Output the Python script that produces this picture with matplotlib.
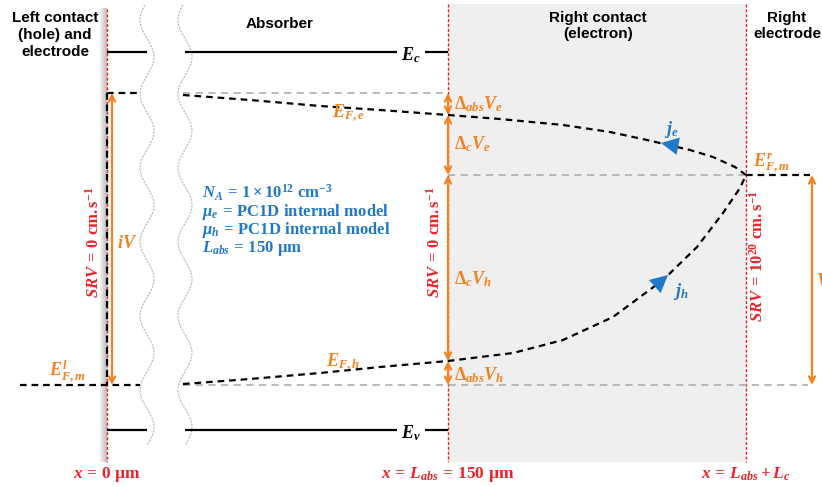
import numpy as np
import matplotlib
matplotlib.use("Agg")
import matplotlib.pyplot as plt
from matplotlib.patches import Rectangle

plt.rcParams['mathtext.fontset'] = 'custom'
plt.rcParams['mathtext.it'] = 'Liberation Serif:italic:bold'
plt.rcParams['mathtext.rm'] = 'Liberation Serif:bold'
plt.rcParams['mathtext.bf'] = 'Liberation Serif:bold'

ORANGE = '#f58220'
RED = '#e8232a'
BLUE = '#1f78c8'
GREY = '#b4b4b4'
SHADE = '#efefef'

# Interface positions (diagram units)
x_left = 107
x_abs = 448
x_right = 746

# Energy levels (diagram units, screen axis pointing down)
y_ec = 52
y_ev = 430
y_efe0 = 93       # electron quasi-Fermi level at left boundary
y_efm_r = 175     # right metal Fermi level
y_efm_l = 385     # left metal Fermi level

# Electron quasi-Fermi level through absorber and contact
efe_x = [183, 250, 320, 380, 448, 500, 563, 610, 647, 690, 713, 735, 746]
efe_y = [95, 100, 106, 110, 115, 119, 125, 132, 140, 150, 157, 167, 175]
# Hole quasi-Fermi level through absorber and contact
efh_x = [183, 250, 320, 380, 448, 513, 563, 613, 663, 697, 723, 740, 746]
efh_y = [384, 379, 373, 367, 361, 353, 340, 317, 280, 247, 213, 188, 175]

# Level where each quasi-Fermi level meets the absorber / contact interface
y_efe_int = 115
y_efh_int = 361

params = [r"$N_A\,=\,1\times10^{12}\ \mathrm{cm}^{-3}$",
          r"$\mu_e\,=\,\mathrm{PC1D\ internal\ model}$",
          r"$\mu_h\,=\,\mathrm{PC1D\ internal\ model}$",
          r"$L_{abs}\,=\,150\ \mathrm{µm}$"]

fig = plt.figure(figsize=(8.22, 4.87), dpi=100)
ax = fig.add_axes([0, 0, 1, 1])
ax.set_xlim(0, 822)
ax.set_ylim(487, 0)
ax.axis('off')

y_top, y_bot = 4, 462

# Contact region shading
ax.add_patch(Rectangle((x_abs, y_top), x_right - x_abs, y_bot - y_top,
                       facecolor=SHADE, edgecolor='none', zorder=0))
# Left contact boundary (grey gradient)
grad = np.linspace(0.95, 0.74, 20)[None, :]
ax.imshow(grad, cmap='gray', vmin=0, vmax=1, aspect='auto',
          extent=[100, x_left, y_bot, y_top + 4], zorder=0.5)

# Interface markers
for xv, yt in [(x_left, 9), (x_abs, y_top), (x_right, y_top)]:
    ax.plot([xv, xv], [yt, y_bot], color=RED, lw=1.0,
            ls=(0, (2.2, 1.3)), zorder=2)

# Axis-break wavy lines
yy = np.linspace(5, 445, 400)
for xc in (147, 185):
    ax.plot(xc + 7 * np.cos(2 * np.pi * (yy - 57) / 74), yy,
            color='#b8b8b8', lw=0.8, ls=(0, (2, 1)), zorder=1)

# Band edges
band_kw = dict(color='black', lw=1.6, solid_capstyle='butt', zorder=3)
for yb in (y_ec, y_ev):
    ax.plot([x_left, 147], [yb, yb], **band_kw)
    ax.plot([185, 397], [yb, yb], **band_kw)
    ax.plot([425, x_abs], [yb, yb], **band_kw)
ax.text(411, y_ec + 3, r"$E_c$", ha='center', va='center', fontsize=13, color='black')
ax.text(411, y_ev + 3, r"$E_v$", ha='center', va='center', fontsize=13, color='black')

# Reference (grey dashed) levels
g_kw = dict(color=GREY, lw=1.3, ls=(0, (4, 3)), zorder=2)
ax.plot([183, x_abs], [y_efe0, y_efe0], **g_kw)
ax.plot([x_abs, x_right], [y_efm_r, y_efm_r], **g_kw)
ax.plot([183, 808], [y_efm_l, y_efm_l], **g_kw)

# Quasi-Fermi levels (black dashed)
d_kw = dict(color='black', lw=1.6, ls=(0, (3, 2.2)), zorder=4)
ax.plot(efe_x, efe_y, **d_kw)
ax.plot(efh_x, efh_y, **d_kw)
ax.plot([x_left, 140], [y_efe0, y_efe0], **d_kw)
ax.plot([x_left, x_left], [y_efe0, y_efm_l], **d_kw)
ax.plot([20, 140], [y_efm_l, y_efm_l], **d_kw)
ax.plot([x_right, 810], [y_efm_r, y_efm_r], **d_kw)


def vspan_arrow(x, y0, y1):
    ax.annotate('', xy=(x, y1), xytext=(x, y0),
                arrowprops=dict(arrowstyle='<->', color=ORANGE, lw=1.6,
                                mutation_scale=11, shrinkA=0, shrinkB=0),
                zorder=5)


vspan_arrow(112, y_efe0, y_efm_l)
vspan_arrow(x_abs, y_efe0, y_efe_int)
vspan_arrow(x_abs, y_efe_int, y_efm_r)
vspan_arrow(x_abs, y_efm_r, y_efh_int)
vspan_arrow(x_abs, y_efh_int, y_efm_l)
vspan_arrow(812, y_efm_r, y_efm_l)

o_kw = dict(color=ORANGE, fontsize=13, va='center', zorder=6)
ax.text(117, 243, r"$iV$", ha='left', **o_kw)
ax.text(454, 104, r"$\Delta_{abs}V_e$", ha='left', **o_kw)
ax.text(454, 144, r"$\Delta_cV_e$", ha='left', **o_kw)
ax.text(454, 279, r"$\Delta_cV_h$", ha='left', **o_kw)
ax.text(454, 375, r"$\Delta_{abs}V_h$", ha='left', **o_kw)
ax.text(348, 113, r"$E_{F,e}$", ha='center', **o_kw)
ax.text(343, 362, r"$E_{F,h}$", ha='center', **o_kw)
ax.text(67, 372, r"$E_{F,m}^{l}$", ha='center', **o_kw)
ax.text(771, 163, r"$E_{F,m}^{r}$", ha='center', **o_kw)
ax.text(816, 281, r"$V$", ha='left', **o_kw)

# Current direction arrows
for (x0, y0), (x1, y1) in [((677, 146), (661, 143)), ((660, 282), (668, 275))]:
    ax.annotate('', xy=(x1, y1), xytext=(x0, y0),
                arrowprops=dict(arrowstyle='-|>,head_length=0.9,head_width=0.45',
                                color=BLUE, lw=0, mutation_scale=14,
                                shrinkA=0, shrinkB=0), zorder=6)
ax.text(671, 130, r"$j_e$", color=BLUE, fontsize=13, ha='center', va='center')
ax.text(681, 292, r"$j_h$", color=BLUE, fontsize=13, ha='center', va='center')

# Surface recombination velocities
r_kw = dict(color=RED, fontsize=12, rotation=90, ha='center', va='center', zorder=6)
ax.text(94, 242, r"$SRV\,=\,0\ \mathrm{cm.s}^{-1}$", **r_kw)
ax.text(435, 242, r"$SRV\,=\,0\ \mathrm{cm.s}^{-1}$", **r_kw)
ax.text(758, 256, r"$SRV\,=\,10^{20}\ \mathrm{cm.s}^{-1}$", **r_kw)

# Positions
b_kw = dict(color=RED, fontsize=12.5, ha='center', va='center')
ax.text(x_left, 474, r"$x\,=\,0\ \mathrm{µm}$", **b_kw)
ax.text(x_abs, 474, r"$x\,=\,L_{abs}\,=\,150\ \mathrm{µm}$", **b_kw)
ax.text(x_right, 474, r"$x\,=\,L_{abs}+L_c$", **b_kw)

# Simulation parameters
for i, s in enumerate(params):
    ax.text(202, 193 + 18.5 * i, s, color=BLUE, fontsize=12, ha='left', va='center')

# Region titles
h_kw = dict(family='Liberation Sans', weight='bold', fontsize=11, ha='center',
            va='center', color='black', linespacing=1.25)
ax.text(55, 35, "Left contact\n(hole) and\nelectrode", **h_kw)
ax.text(280, 24, "Absorber", **h_kw)
ax.text(598, 26, "Right contact\n(electron)", **h_kw)
ax.text(787, 26, "Right\nelectrode", **h_kw)

fig.savefig('out.png', dpi=100)
